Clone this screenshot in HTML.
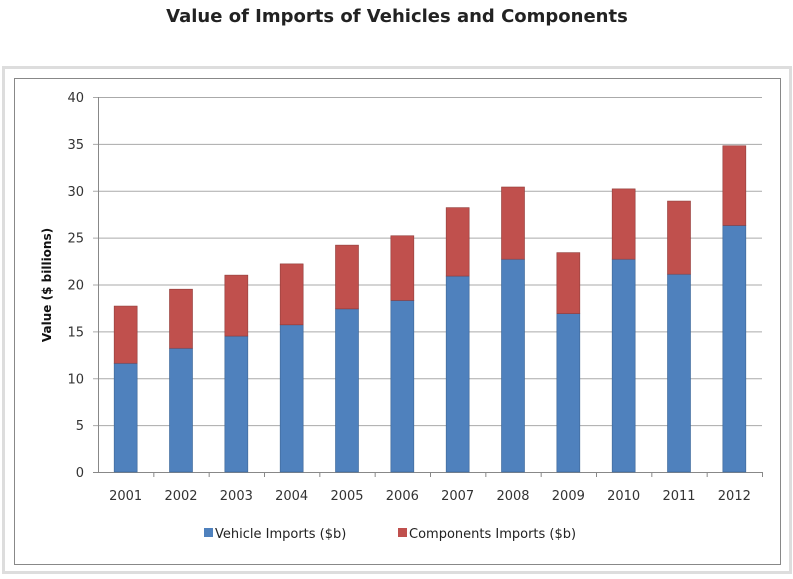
<!DOCTYPE html>
<html><head><style>
body{margin:0;width:793px;height:575px;background:#fff;font-family:"DejaVu Sans","Liberation Sans",sans-serif;overflow:hidden}
</style></head><body>
<svg width="793" height="575" font-family="DejaVu Sans, Liberation Sans, sans-serif">
<text x="397" y="22" text-anchor="middle" font-size="18" font-weight="bold" fill="#222">Value of Imports of Vehicles and Components</text>
<rect x="3.5" y="67.5" width="787" height="505" fill="#fff" stroke="#ddd" stroke-width="3"/>
<rect x="14.5" y="78.5" width="766" height="486" fill="#fff" stroke="#888"/>
<g id="grid"></g><g id="bars"></g><g id="axes"></g>
<text transform="translate(51,285) rotate(-90)" text-anchor="middle" font-size="12" font-weight="bold" fill="#111">Value ($ billions)</text>
<g>
<rect x="204" y="528" width="9" height="9" fill="#4f81bd"/>
<text x="215" y="538" font-size="13" fill="#222">Vehicle Imports ($b)</text>
<rect x="398" y="528" width="9" height="9" fill="#c0504d"/>
<text x="409" y="538" font-size="13" fill="#222">Components Imports ($b)</text>
</g>
</svg>
<script>
const years=["2001","2002","2003","2004","2005","2006","2007","2008","2009","2010","2011","2012"];
const vehicle=[11.6,13.2,14.5,15.7,17.4,18.3,20.9,22.7,16.9,22.7,21.1,26.3];
const components=[6.1,6.3,6.5,6.5,6.8,6.9,7.3,7.7,6.5,7.5,7.8,8.5];
const yTicks=[0,5,10,15,20,25,30,35,40];
const NS="http://www.w3.org/2000/svg";
const x0=98,x1=762,y0=472,y1=97,yMax=40;
const y=v=>y0-(v/yMax)*(y0-y1);
const bw=(x1-x0)/years.length;
const xc=i=>x0+bw*(i+0.5);
function mk(t,a,p){const e=document.createElementNS(NS,t);for(const k in a)e.setAttribute(k,a[k]);p.appendChild(e);return e;}
const g=document.getElementById('grid'),b=document.getElementById('bars'),ax=document.getElementById('axes');
yTicks.forEach(t=>{
 const l=mk('line',{x1:x0-5,x2:x1,y1:y(t)+.5,y2:y(t)+.5,stroke:t===0?'#888':'#aaa'},g);
 
 
 const tx=mk('text',{x:x0-14,y:y(t)+5,'text-anchor':'end','font-size':13,fill:'#333'},ax);
 tx.textContent=t;
 
 
});
mk('line',{x1:x0+.5,x2:x0+.5,y1:y1,y2:y0,stroke:'#888'},ax);
years.forEach((yr,i)=>{
 const w=23,xl=xc(i)-w/2;
 const r1=mk('rect',{x:xl,y:y(vehicle[i]),width:w,height:y0-y(vehicle[i]),fill:'#4f81bd',stroke:'#3a6494','stroke-width':0.6},b);
 
 
 const tot=vehicle[i]+components[i];
 const r2=mk('rect',{x:xl,y:y(tot),width:w,height:y(vehicle[i])-y(tot),fill:'#c0504d',stroke:'#8f3a38','stroke-width':0.6},b);
 
 
 const tk=mk('line',{x1:x0+bw*(i+1)+.5,x2:x0+bw*(i+1)+.5,y1:y0,y2:y0+5,stroke:'#888'},ax);
 
 
 const tx=mk('text',{x:xc(i),y:500,'text-anchor':'middle','font-size':13,fill:'#333'},ax);
 tx.textContent=yr;
 
 
});
</script>
</body></html>
